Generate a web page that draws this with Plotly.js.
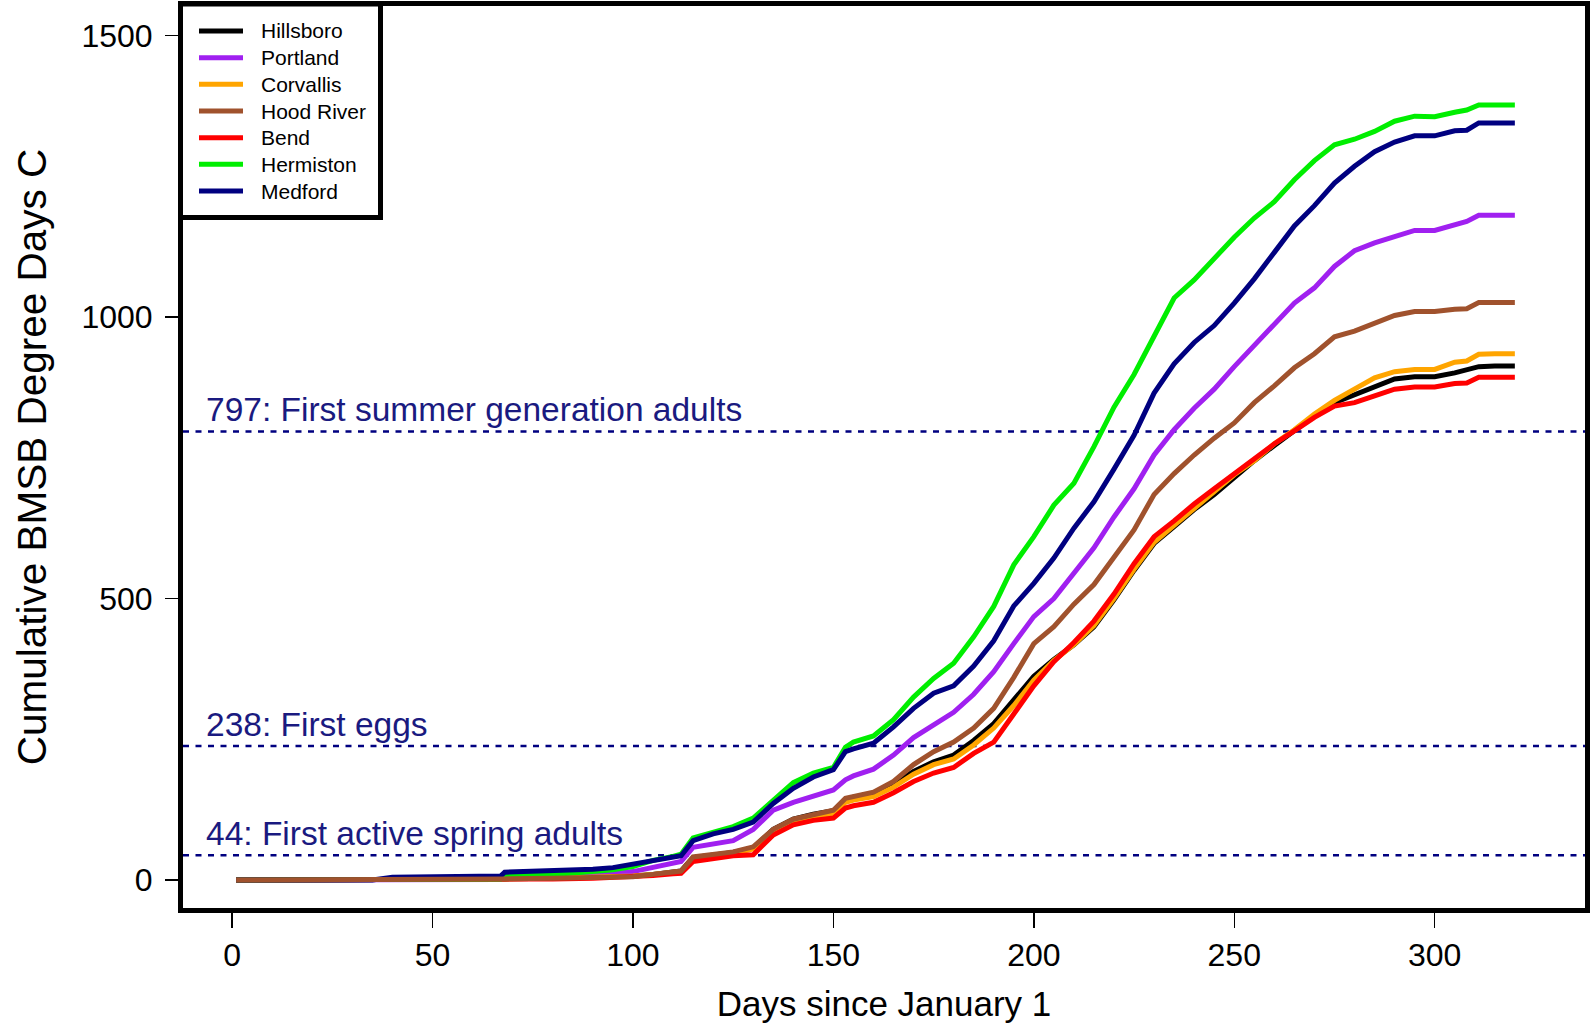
<!DOCTYPE html>
<html>
<head>
<meta charset="utf-8">
<script src="https://cdn.plot.ly/plotly-3.0.1.min.js"></script>
<style>html,body{margin:0;padding:0;background:#fff;}#chart{width:1594px;height:1023px;}</style>
</head>
<body>
<div id="chart"></div>
<script>
// ---- data (days since January 1, cumulative BMSB degree days C) ----
const days = [1,30,35,40,60,67,68,80,90,95,100,105,110,112,115,120,125,130,135,140,145,150,153,155,160,165,170,175,180,185,190,195,200,205,210,215,220,225,230,235,240,245,250,255,260,265,270,275,280,285,290,295,300,305,308,311,315,320];

const hillsboro = [0,0,0,0,0,0,2,3,4,5,7,10,14,16,40,45,49,57,90,108,117,123,143,147,153,170,193,210,222,248,278,320,362,392,418,450,498,550,598,628,658,685,715,745,772,798,825,848,862,878,890,894,894,901,906,912,913,913];
const portland = [0,0,0,0,0,1,5,7,9,11,15,22,30,33,58,65,70,90,124,138,150,160,178,185,197,222,253,275,298,330,370,420,468,500,545,590,645,695,755,800,838,872,912,950,988,1025,1052,1090,1118,1132,1143,1154,1154,1165,1170,1181,1181,1181];
const corvallis = [0,0,0,0,0,0,2,3,4,5,7,10,13,15,38,43,47,55,88,105,113,118,138,142,148,165,188,205,215,240,270,310,355,390,418,452,500,552,600,630,660,690,720,745,775,800,828,852,873,892,903,907,907,920,922,934,935,935];
const hoodRiver = [0,0,0,0,0,0,2,3,4,5,6,10,14,16,41,45,50,59,90,108,117,124,145,148,156,175,205,228,245,270,305,360,420,450,490,525,575,622,685,722,755,785,812,848,878,910,935,965,975,990,1003,1010,1010,1014,1015,1026,1026,1026];
const bend = [0,0,0,0,0,0,1,2,3,4,5,8,11,12,33,38,43,45,80,98,106,110,128,132,138,155,175,190,200,225,245,295,345,388,422,460,508,562,610,638,668,695,722,748,775,798,822,842,848,860,872,876,876,882,883,893,893,893];
const hermiston = [0,0,0,0,1,2,8,10,15,18,24,35,42,46,75,86,95,110,142,173,190,200,236,245,256,285,325,358,385,432,486,560,610,666,705,770,840,898,966,1034,1066,1105,1142,1176,1205,1244,1278,1306,1316,1330,1348,1357,1356,1364,1368,1377,1377,1377];
const medford = [0,0,0,5,6,7,14,16,19,22,28,33,40,43,70,82,90,103,136,163,183,196,228,233,243,272,305,332,345,380,425,487,527,572,625,672,730,790,865,917,955,985,1025,1068,1115,1162,1198,1238,1268,1294,1311,1322,1322,1331,1332,1345,1345,1345];

const seriesNames = ["Hillsboro","Portland","Corvallis","Hood River","Bend","Hermiston","Medford"];
const seriesValues = [hillsboro, portland, corvallis, hoodRiver, bend, hermiston, medford];
const seriesColors = ["#000000","#a020f0","#ffa500","#a0522d","#ff0000","#00ee00","#000080"];

const thresholdValues = [797, 238, 44];
const thresholdLabels = ["797: First summer generation adults", "238: First eggs", "44: First active spring adults"];

const xTicks = [0,50,100,150,200,250,300];
const yTicks = [0,500,1000,1500];

// ---- layout geometry ----
const W = 1594, H = 1023;
const M = {l:183, r:9, t:6, b:115};
const plotW = W - M.l - M.r, plotH = H - M.t - M.b;
const px2paperX = p => (p - M.l) / plotW;
const px2paperY = p => (H - M.b - p) / plotH;

const font = "'Liberation Sans', Arial, Helvetica, sans-serif";

// draw order (later on top)
const drawOrder = [0,1,2,4,5,6,3];
const traces = drawOrder.map(i => ({
  type: "scatter", mode: "lines",
  x: days, y: seriesValues[i], name: seriesNames[i],
  line: {color: seriesColors[i], width: 5},
  showlegend: false, hoverinfo: "skip"
}));

const shapes = [];
const annotations = [];

thresholdValues.forEach((v, k) => {
  shapes.push({type:"line", xref:"paper", yref:"y", x0:0, x1:1, y0:v, y1:v,
    line:{color:"#000080", width:2.5, dash:"6px,6.5px"}, layer:"below"});
  annotations.push({xref:"paper", yref:"y", x:px2paperX(204), y:v, xanchor:"left", yanchor:"bottom",
    yshift:1, text:thresholdLabels[k], showarrow:false,
    font:{family:font, size:33.5, color:"#1a1a80"}});
});

// legend box (manual, matches original placement)
shapes.push({type:"rect", xref:"paper", yref:"paper",
  x0:px2paperX(180.5), x1:px2paperX(380.5), y0:px2paperY(217.5), y1:px2paperY(4),
  line:{color:"#000", width:5}, fillcolor:"#ffffff", layer:"above"});
seriesNames.forEach((n, i) => {
  const py = 31 + 26.67 * i;
  shapes.push({type:"line", xref:"paper", yref:"paper",
    x0:px2paperX(199), x1:px2paperX(243), y0:px2paperY(py), y1:px2paperY(py),
    line:{color:seriesColors[i], width:5}, layer:"above"});
  annotations.push({xref:"paper", yref:"paper", x:px2paperX(259), y:px2paperY(py),
    xanchor:"left", yanchor:"middle", text:n, showarrow:false,
    font:{family:font, size:21, color:"#000"}});
});

const layout = {
  width: W, height: H,
  margin: M,
  paper_bgcolor: "#ffffff", plot_bgcolor: "#ffffff",
  showlegend: false,
  xaxis: {
    range: [-12.25, 337.5], tickmode:"array", tickvals: xTicks, ticktext: xTicks.map(String),
    ticks:"outside", ticklen:15, tickwidth:1.5, tickcolor:"#000",
    showline:true, mirror:true, linewidth:5, linecolor:"#000",
    showgrid:false, zeroline:false,
    tickfont:{family:font, size:32, color:"#000"},
    title:{text:"Days since January 1", font:{family:font, size:35, color:"#000"}, standoff:22},
    automargin:false
  },
  yaxis: {
    range: [-49.7, 1552.7], tickmode:"array", tickvals: yTicks, ticktext: yTicks.map(String),
    ticks:"outside", ticklen:13, tickwidth:1.5, tickcolor:"#000",
    showline:true, mirror:true, linewidth:5, linecolor:"#000",
    showgrid:false, zeroline:false,
    tickfont:{family:font, size:32, color:"#000"},
    ticklabelstandoff: 6,
    title:{text:"Cumulative BMSB Degree Days C", font:{family:font, size:40.5, color:"#000"}, standoff:24},
    automargin:false
  },
  shapes: shapes,
  annotations: annotations
};

Plotly.newPlot("chart", traces, layout, {displayModeBar:false, staticPlot:true});
</script>
</body>
</html>
